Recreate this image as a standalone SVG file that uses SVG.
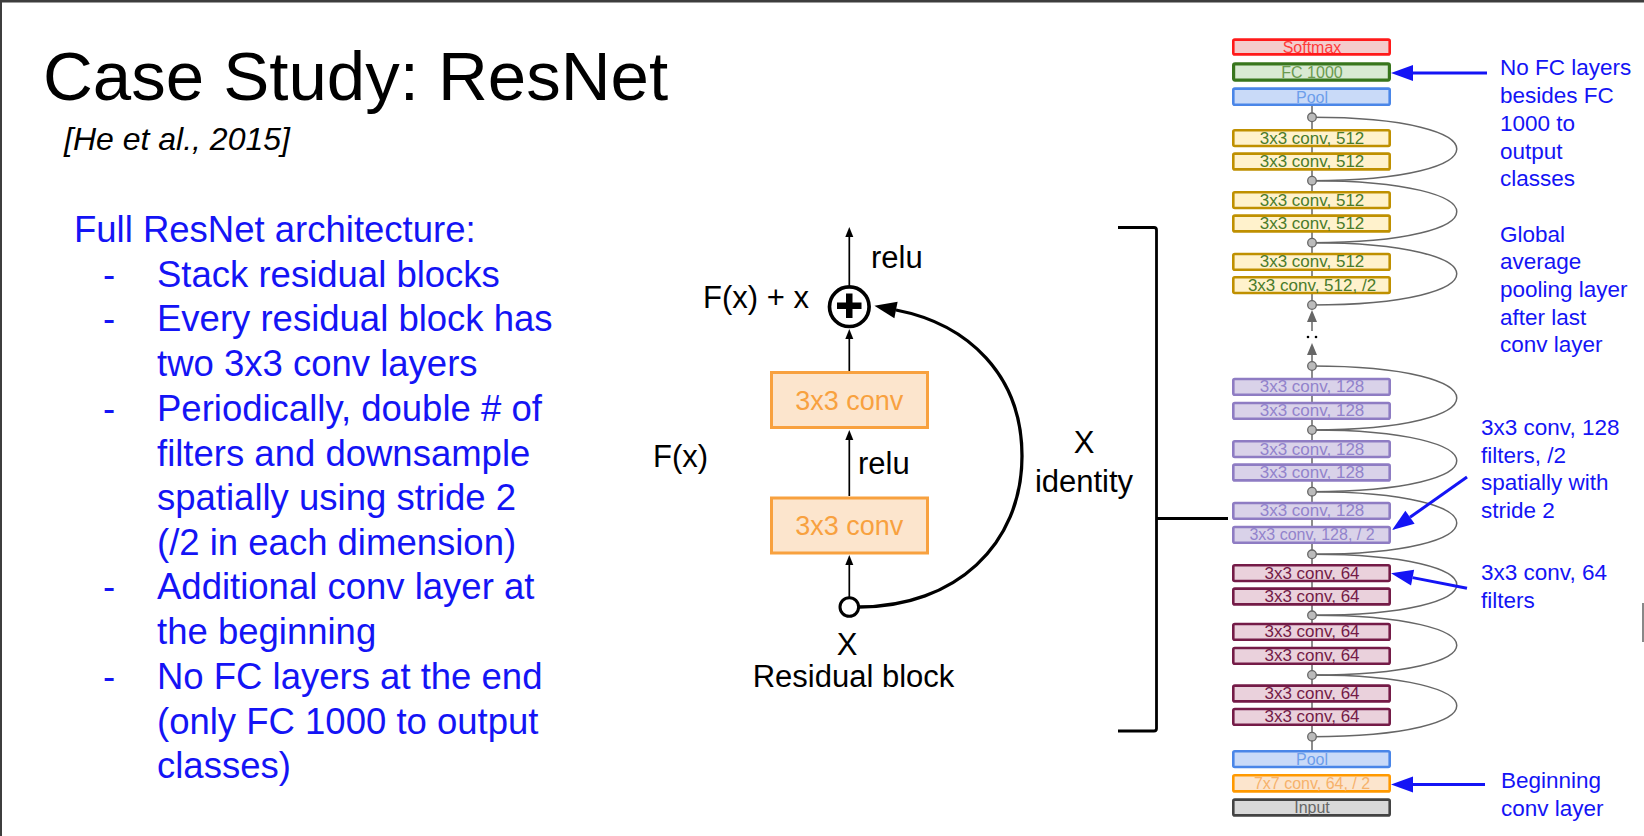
<svg xmlns="http://www.w3.org/2000/svg" width="1644" height="836" viewBox="0 0 1644 836">
<defs>
<style>
text{font-family:"Liberation Sans",Arial,sans-serif}
.title{font-size:69px;fill:#000}
.cite{font-size:32px;font-style:italic;fill:#000}
.body{font-size:36.5px;fill:#1414f5}
.ann{font-size:22.5px;fill:#1414f5}
.lbl{font-size:31px;fill:#000}
.rbox{fill:#fce5cd;stroke:#f8a13f;stroke-width:3}
.rtxt{font-size:27px;fill:#f8a13f;text-anchor:middle}
.box rect{stroke-width:2.6}
.box text{text-anchor:middle;font-size:17px}
.sm{font-size:16px!important}
.softmax rect{fill:#f4cccc;stroke:#ff1a1a}
.softmax text{fill:#ff3b3b}
.fc rect{fill:#d9ead3;stroke:#38761d;stroke-width:3.2}
.fc text{fill:#6a9a4f}
.pool rect{fill:#c9daf8;stroke:#4a86e8}
.pool text{fill:#6d9eeb}
.c512 rect{fill:#fff2cc;stroke:#bf9000}
.c512 text{fill:#4a7b2a}
.c128 rect{fill:#d9d2e9;stroke:#8e7cc3}
.c128 text{fill:#9283cc}
.c64 rect{fill:#ead1dc;stroke:#741b47}
.c64 text{fill:#741b47}
.c7 rect{fill:#fce5cd;stroke:#ff9900}
.c7 text{fill:#f6b26b}
.inp rect{fill:#d9d9d9;stroke:#434343}
.inp text{fill:#666}
.gl{stroke:#666;stroke-width:1.5;fill:none}
.node{fill:#bbb;stroke:#666;stroke-width:1.3}
.blk{stroke:#000;stroke-width:1.7;fill:none}
.blue{stroke:#1414f5;stroke-width:3;fill:none}
</style>
<marker id="ah" markerUnits="userSpaceOnUse" markerWidth="12" markerHeight="10" refX="0" refY="4" orient="auto" overflow="visible"><path d="M0,0 L10,4 L0,8 z" fill="#000"/></marker>
<marker id="ahBig" markerUnits="userSpaceOnUse" markerWidth="24" markerHeight="18" refX="0" refY="8.5" orient="auto" overflow="visible"><path d="M0,0 L22,8.5 L0,17 z" fill="#000"/></marker>
<marker id="ahBlue" markerUnits="userSpaceOnUse" markerWidth="24" markerHeight="18" refX="0" refY="8" orient="auto" overflow="visible"><path d="M0,0 L22,8 L0,16 z" fill="#1414f5"/></marker>
<marker id="ahGray" markerUnits="userSpaceOnUse" markerWidth="14" markerHeight="12" refX="0" refY="5" orient="auto" overflow="visible"><path d="M0,0 L12,5 L0,10 z" fill="#666"/></marker>
</defs>
<rect x="0" y="0" width="1644" height="836" fill="#fff"/>
<rect x="0" y="0" width="1644" height="2.5" fill="#3d3d3d"/>
<rect x="0" y="0" width="2" height="836" fill="#3d3d3d"/>
<rect x="1642" y="603" width="2" height="39" fill="#888"/>

<g id="title-text">
<text class="title" x="43" y="100">Case Study: ResNet</text>
<text class="cite" x="64" y="150">[He et al., 2015]</text>
</g>

<g id="bullets">
<text class="body" x="74" y="242">Full ResNet architecture:</text>
<text class="body" x="103" y="286.7">-</text><text class="body" x="157" y="286.7">Stack residual blocks</text>
<text class="body" x="103" y="331.4">-</text><text class="body" x="157" y="331.4">Every residual block has</text>
<text class="body" x="157" y="376">two 3x3 conv layers</text>
<text class="body" x="103" y="420.8">-</text><text class="body" x="157" y="420.8">Periodically, double # of</text>
<text class="body" x="157" y="465.5">filters and downsample</text>
<text class="body" x="157" y="510">spatially using stride 2</text>
<text class="body" x="157" y="554.7">(/2 in each dimension)</text>
<text class="body" x="103" y="599.4">-</text><text class="body" x="157" y="599.4">Additional conv layer at</text>
<text class="body" x="157" y="644">the beginning</text>
<text class="body" x="103" y="688.8">-</text><text class="body" x="157" y="688.8">No FC layers at the end</text>
<text class="body" x="157" y="733.5">(only FC 1000 to output</text>
<text class="body" x="157" y="778">classes)</text>
</g>

<g id="connectors">
<line class="blk" x1="849.3" y1="285" x2="849.3" y2="237" marker-end="url(#ah)"/>
<line class="blk" x1="849.3" y1="371" x2="849.3" y2="339" marker-end="url(#ah)"/>
<line class="blk" x1="849.3" y1="496" x2="849.3" y2="440" marker-end="url(#ah)"/>
<line class="blk" x1="849.3" y1="597" x2="849.3" y2="565" marker-end="url(#ah)"/>
<path d="M 859 607 C 955 607 1022 545 1022 456 C 1022 375 968 324 896 310" stroke="#000" stroke-width="3.3" fill="none" marker-end="url(#ahBig)"/>
<path d="M 1118 227.5 L 1154 227.5 Q 1156.5 227.5 1156.5 230 L 1156.5 728.5 Q 1156.5 731 1154 731 L 1118 731" stroke="#000" stroke-width="2.8" fill="none"/>
<line x1="1156.5" y1="518.5" x2="1228" y2="518.5" stroke="#000" stroke-width="2.8"/>
<line class="gl" x1="1312" y1="106" x2="1312" y2="305"/>
<line class="gl" x1="1312" y1="331" x2="1312" y2="322" marker-end="url(#ahGray)"/>
<circle cx="1308" cy="337" r="1.3" fill="#000"/>
<circle cx="1316" cy="337" r="1.3" fill="#000"/>
<line class="gl" x1="1312" y1="362" x2="1312" y2="355" marker-end="url(#ahGray)"/>
<line class="gl" x1="1312" y1="366" x2="1312" y2="750"/>
<path class="gl" d="M1312 117.3 C1505 117.3 1505 180.7 1312 180.7"/>
<path class="gl" d="M1312 180.7 C1505 180.7 1505 242.7 1312 242.7"/>
<path class="gl" d="M1312 242.7 C1505 242.7 1505 305 1312 305"/>
<path class="gl" d="M1312 366 C1505 366 1505 430 1312 430"/>
<path class="gl" d="M1312 430 C1505 430 1505 491.7 1312 491.7"/>
<path class="gl" d="M1312 491.7 C1505 491.7 1505 554.3 1312 554.3"/>
<path class="gl" d="M1312 554.3 C1505 554.3 1505 615.3 1312 615.3"/>
<path class="gl" d="M1312 615.3 C1505 615.3 1505 675 1312 675"/>
<path class="gl" d="M1312 675 C1505 675 1505 736.7 1312 736.7"/>
<line class="blue" x1="1487" y1="73" x2="1413" y2="73" marker-end="url(#ahBlue)"/>
<line class="blue" x1="1467" y1="477" x2="1410" y2="517.3" marker-end="url(#ahBlue)"/>
<line class="blue" x1="1467" y1="588.3" x2="1412.6" y2="577.6" marker-end="url(#ahBlue)"/>
<line class="blue" x1="1485" y1="784.5" x2="1413" y2="784.5" marker-end="url(#ahBlue)"/>
</g>

<g id="add-node">
<circle cx="849.3" cy="306.7" r="19.8" fill="#fff" stroke="#000" stroke-width="3.7"/>
<rect x="837" y="302.5" width="24.5" height="6.5" fill="#000"/>
<rect x="846" y="293.5" width="6.5" height="24.5" fill="#000"/>
</g>
<g id="input-node"><circle cx="849.3" cy="607" r="9.3" fill="#fff" stroke="#000" stroke-width="3"/></g>
<g id="conv-top"><rect class="rbox" x="771.5" y="372.5" width="156" height="55"/><text class="rtxt" x="849.3" y="410">3x3 conv</text></g>
<g id="conv-bottom"><rect class="rbox" x="771.5" y="498" width="156" height="55"/><text class="rtxt" x="849.3" y="535">3x3 conv</text></g>
<g id="labels">
<text class="lbl" x="871" y="268">relu</text>
<text class="lbl" x="703" y="308">F(x) + x</text>
<text class="lbl" x="653" y="467">F(x)</text>
<text class="lbl" x="858" y="474">relu</text>
<text class="lbl" x="1084" y="453" text-anchor="middle">X</text>
<text class="lbl" x="1084" y="492" text-anchor="middle">identity</text>
<text class="lbl" x="847" y="655" text-anchor="middle">X</text>
<text class="lbl" x="853.5" y="687" text-anchor="middle">Residual block</text>
</g>

<g id="nodes-small">
<circle class="node" cx="1312" cy="117.3" r="4.3"/>
<circle class="node" cx="1312" cy="180.7" r="4.3"/>
<circle class="node" cx="1312" cy="242.7" r="4.3"/>
<circle class="node" cx="1312" cy="305" r="4.3"/>
<circle class="node" cx="1312" cy="366" r="4.3"/>
<circle class="node" cx="1312" cy="430" r="4.3"/>
<circle class="node" cx="1312" cy="491.7" r="4.3"/>
<circle class="node" cx="1312" cy="554.3" r="4.3"/>
<circle class="node" cx="1312" cy="615.3" r="4.3"/>
<circle class="node" cx="1312" cy="675" r="4.3"/>
<circle class="node" cx="1312" cy="736.7" r="4.3"/>
</g>

<g id="softmax" class="box softmax"><rect x="1233.3" y="39.6" width="156.4" height="14.8" rx="1.5"/><text class="sm" x="1312" y="52.5">Softmax</text></g>
<g id="fc1000" class="box fc"><rect x="1233.6" y="63.9" width="155.8" height="16.2" rx="1.5"/><text class="sm" x="1312" y="77.7">FC 1000</text></g>
<g id="pool-top" class="box pool"><rect x="1233.3" y="88.6" width="156.4" height="16.1" rx="1.5"/><text class="sm" x="1312" y="102.6">Pool</text></g>

<g id="conv512-1" class="box c512"><rect x="1233.3" y="130.3" width="156.4" height="15.7" rx="1.5"/><text x="1312" y="143.5">3x3 conv, 512</text></g>
<g id="conv512-2" class="box c512"><rect x="1233.3" y="153.6" width="156.4" height="15.8" rx="1.5"/><text x="1312" y="166.9">3x3 conv, 512</text></g>
<g id="conv512-3" class="box c512"><rect x="1233.3" y="192.3" width="156.4" height="15.7" rx="1.5"/><text x="1312" y="205.5">3x3 conv, 512</text></g>
<g id="conv512-4" class="box c512"><rect x="1233.3" y="215.6" width="156.4" height="15.8" rx="1.5"/><text x="1312" y="228.9">3x3 conv, 512</text></g>
<g id="conv512-5" class="box c512"><rect x="1233.3" y="254" width="156.4" height="15.7" rx="1.5"/><text x="1312" y="267.2">3x3 conv, 512</text></g>
<g id="conv512-6" class="box c512"><rect x="1233.3" y="277.3" width="156.4" height="15.7" rx="1.5"/><text x="1312" y="290.5">3x3 conv, 512, /2</text></g>

<g id="conv128-1" class="box c128"><rect x="1233.3" y="379" width="156.4" height="15.7" rx="1.5"/><text x="1312" y="392.2">3x3 conv, 128</text></g>
<g id="conv128-2" class="box c128"><rect x="1233.3" y="403" width="156.4" height="15.7" rx="1.5"/><text x="1312" y="415.5">3x3 conv, 128</text></g>
<g id="conv128-3" class="box c128"><rect x="1233.3" y="441.3" width="156.4" height="15.7" rx="1.5"/><text x="1312" y="454.5">3x3 conv, 128</text></g>
<g id="conv128-4" class="box c128"><rect x="1233.3" y="464.6" width="156.4" height="15.8" rx="1.5"/><text x="1312" y="477.9">3x3 conv, 128</text></g>
<g id="conv128-5" class="box c128"><rect x="1233.3" y="503" width="156.4" height="15.7" rx="1.5"/><text x="1312" y="516.2">3x3 conv, 128</text></g>
<g id="conv128-6" class="box c128"><rect x="1233.3" y="527" width="156.4" height="15.7" rx="1.5"/><text class="sm" x="1312" y="539.5" style="font-size:15.3px">3x3 conv, 128, / 2</text></g>

<g id="conv64-1" class="box c64"><rect x="1233.3" y="565.3" width="156.4" height="15.7" rx="1.5"/><text x="1312" y="578.5">3x3 conv, 64</text></g>
<g id="conv64-2" class="box c64"><rect x="1233.3" y="588.6" width="156.4" height="15.8" rx="1.5"/><text x="1312" y="601.9">3x3 conv, 64</text></g>
<g id="conv64-3" class="box c64"><rect x="1233.3" y="624" width="156.4" height="15.7" rx="1.5"/><text x="1312" y="637.2">3x3 conv, 64</text></g>
<g id="conv64-4" class="box c64"><rect x="1233.3" y="648" width="156.4" height="15.7" rx="1.5"/><text x="1312" y="661.2">3x3 conv, 64</text></g>
<g id="conv64-5" class="box c64"><rect x="1233.3" y="685.6" width="156.4" height="15.8" rx="1.5"/><text x="1312" y="698.9">3x3 conv, 64</text></g>
<g id="conv64-6" class="box c64"><rect x="1233.3" y="709" width="156.4" height="15.7" rx="1.5"/><text x="1312" y="722.2">3x3 conv, 64</text></g>

<g id="pool-bottom" class="box pool"><rect x="1233.3" y="751.3" width="156.4" height="15.7" rx="1.5"/><text class="sm" x="1312" y="764.7">Pool</text></g>
<g id="conv7x7" class="box c7"><rect x="1233.3" y="775.3" width="156.4" height="16.1" rx="1.5"/><text class="sm" x="1312" y="789.2">7x7 conv, 64, / 2</text></g>
<g id="input" class="box inp"><rect x="1233.3" y="799.6" width="156.4" height="15.8" rx="1.5"/><text class="sm" x="1312" y="813.2">Input</text></g>

<g id="annotations">
<text class="ann" x="1500" y="75">No FC layers</text>
<text class="ann" x="1500" y="103">besides FC</text>
<text class="ann" x="1500" y="131">1000 to</text>
<text class="ann" x="1500" y="158.5">output</text>
<text class="ann" x="1500" y="186">classes</text>
<text class="ann" x="1500" y="241.7">Global</text>
<text class="ann" x="1500" y="269.3">average</text>
<text class="ann" x="1500" y="297">pooling layer</text>
<text class="ann" x="1500" y="324.7">after last</text>
<text class="ann" x="1500" y="352.3">conv layer</text>
<text class="ann" x="1481" y="435">3x3 conv, 128</text>
<text class="ann" x="1481" y="462.7">filters, /2</text>
<text class="ann" x="1481" y="490.4">spatially with</text>
<text class="ann" x="1481" y="518">stride 2</text>
<text class="ann" x="1481" y="580">3x3 conv, 64</text>
<text class="ann" x="1481" y="608">filters</text>
<text class="ann" x="1501" y="788">Beginning</text>
<text class="ann" x="1501" y="815.5">conv layer</text>
</g>
</svg>
